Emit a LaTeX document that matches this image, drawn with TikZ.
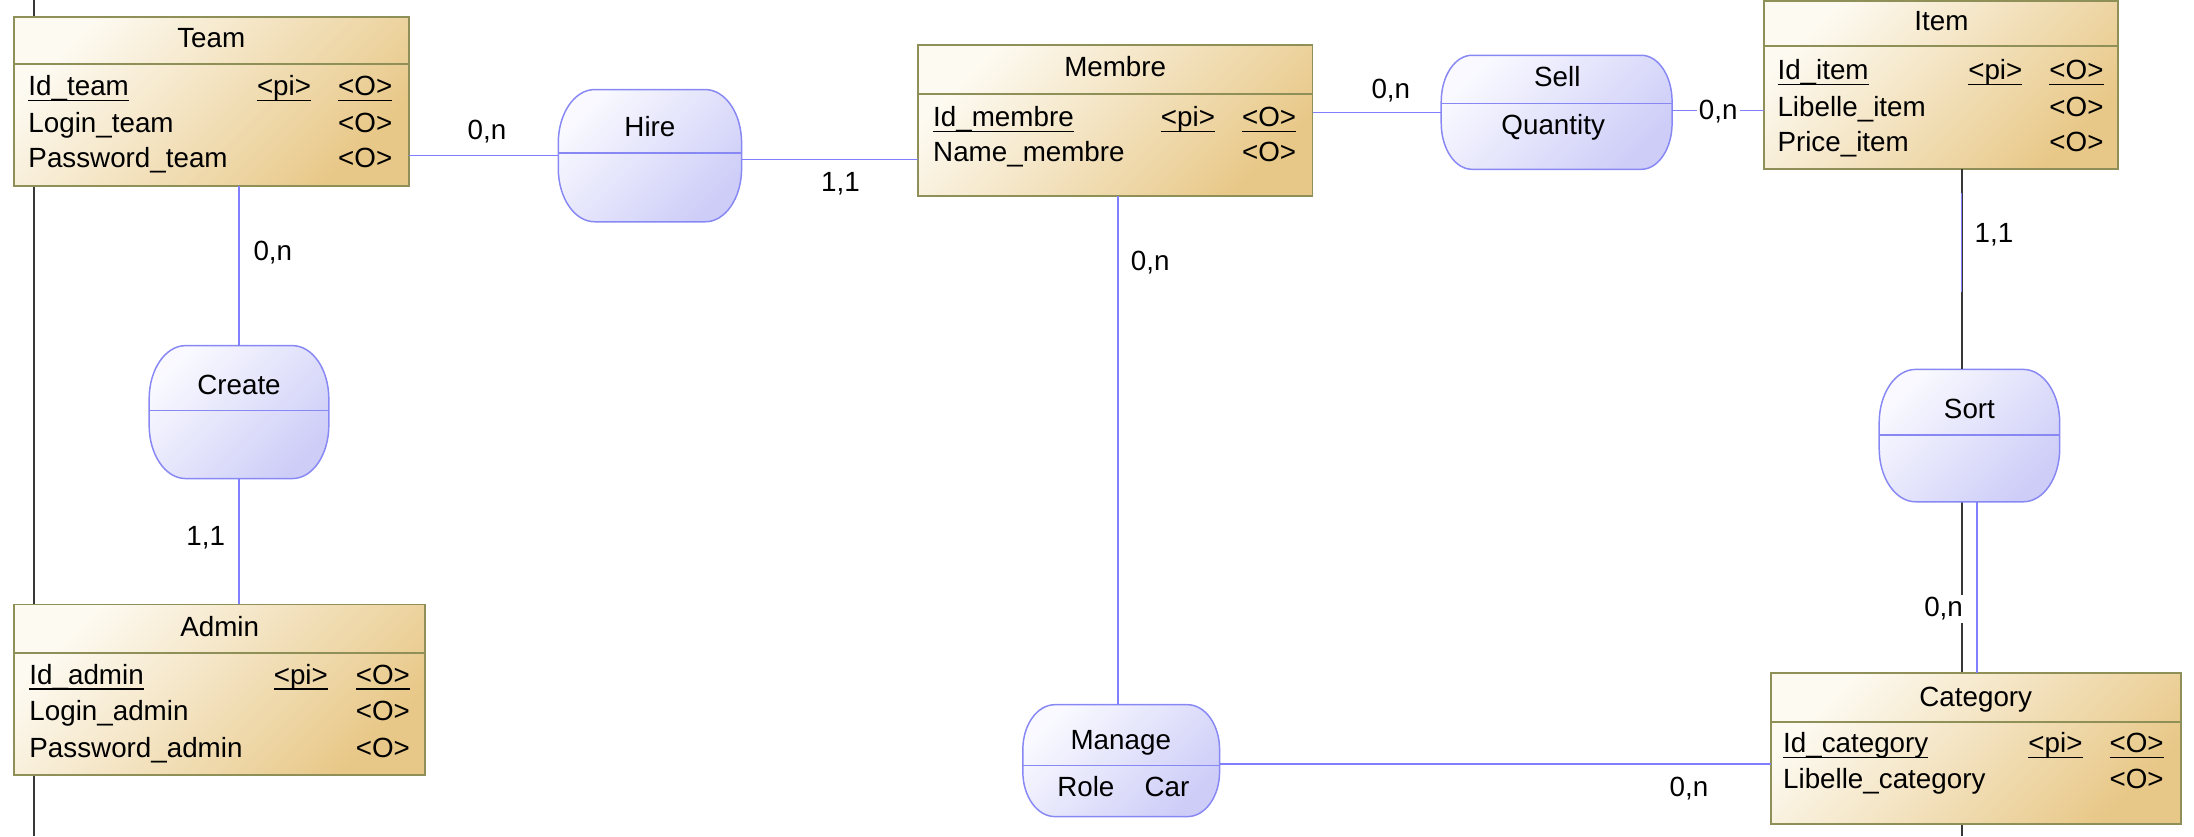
\documentclass[tikz,border=0pt]{standalone}
\usepackage{fontspec}
\setmainfont{Liberation Sans}
\usetikzlibrary{fit}

\definecolor{entlight}{HTML}{FDFAF1}
\definecolor{entdark}{HTML}{E8C888}
\definecolor{entedge}{HTML}{8F8F58}
\definecolor{asslight}{HTML}{F9F9FF}
\definecolor{assdark}{HTML}{CDCDF8}
\definecolor{assedge}{HTML}{8888F4}
\definecolor{linkblue}{HTML}{8080FF}
\definecolor{strayline}{HTML}{383838}

\newcommand{\keyul}[1]{\setbox0\hbox{#1}\rlap{\rule[-2.3pt]{\wd0}{0.7pt}}\box0}

\tikzset{
  entity/.style={draw=entedge, line width=0.8pt, top color=entlight, bottom color=entdark, shading angle=45, inner sep=0pt, outer sep=0pt},
  assoc/.style={draw=assedge, line width=0.6pt, top color=asslight, bottom color=assdark, shading angle=45},
  link/.style={draw=linkblue, line width=0.6pt},
  stray/.style={draw=strayline, line width=0.8pt},
  txt/.style={anchor=base west, inner sep=0pt},
  ctr/.style={anchor=base, inner sep=0pt},
  card/.style={anchor=base, inner sep=1pt},
  cardw/.style={card, fill=white}
}

\begin{document}
\begin{tikzpicture}[x=0.02cm, y=0.02cm, font=\fontsize{11.3}{13.6}\selectfont]
\useasboundingbox (0,0) rectangle (1568,-597.5);
\draw[stray] (24.4,0) -- (24.4,-597.5);
\draw[stray] (1402,0) -- (1402,-597.5);
% entities
\foreach \n/\xa/\ya/\xb/\yb/\yd in {team/10/-12/292/-132.6/-46, admin/10/-432/303.8/-553.6/-467, membre/656/-32.5/938/-140/-67, item/1261/-0.8/1514/-121/-33, category/1266/-481/1558.6/-588.6/-516}{
  \node[entity, fit={(\xa,\ya) (\xb,\yb)}] (\n) {};
  \draw[entedge, line width=0.8pt] (\xa,\yd) -- (\xb,\yd);
}
% associations
\foreach \n/\xa/\ya/\xb/\yb/\yd/\rx/\ry in {hire/399/-64/530/-158.5/-109.5/26/38, create/106.6/-247/235/-342/-293.5/26/38, sort/1343/-264/1472/-358.6/-311/26/38, sell/1030/-39.5/1195/-121/-74/22/33, manage/731/-503.6/871.6/-583.6/-547/23/32}{
  \path[assoc] (\xa+\rx,\ya) -- (\xb-\rx,\ya) arc[start angle=90, end angle=0, x radius={\rx*0.02cm}, y radius={\ry*0.02cm}] -- (\xb,\yb+\ry) arc[start angle=0, end angle=-90, x radius={\rx*0.02cm}, y radius={\ry*0.02cm}] -- (\xa+\rx,\yb) arc[start angle=270, end angle=180, x radius={\rx*0.02cm}, y radius={\ry*0.02cm}] -- (\xa,\ya-\ry) arc[start angle=180, end angle=90, x radius={\rx*0.02cm}, y radius={\ry*0.02cm}] -- cycle;
  \draw[assedge, line width=0.6pt] (\xa,\yd) -- (\xb,\yd);
  \node[fit={(\xa,\ya) (\xb,\yb)}, inner sep=0pt, outer sep=0pt] (\n) {};
}
% links
\draw[link] (team.east |- hire.west) -- (hire.west);
\draw[link] (hire.east |- 0,-114) -- (membre.west |- 0,-114);
\draw[link] (team.south -| create.north) -- (create.north);
\draw[link] (create.south) -- (create.south |- admin.north);
\draw[link] (799,0 |- membre.south) -- (799,0 |- manage.north);
\draw[link] (manage.east |- 0,-546) -- (category.west |- 0,-546);
\draw[link] (membre.east |- sell.west) -- (sell.west);
\draw[link] (sell.east |- 0,-79) -- (item.west |- 0,-79);
\draw[link] (1402,0 |- item.south) -- (1402,0 |- sort.north);
\draw[link] (1413,0 |- sort.south) -- (1413,0 |- category.north);
\draw[stray] (1402,0 |- item.south) -- (1402,-138) (1402,-209) -- (1402,0 |- sort.north);
% Team
\node[ctr] (teamT) at (151,-34) {Team};
\node[txt] (teamA1) at (20,-68.4) {\keyul{Id\_team}};
\node[ctr] (teamP1) at (203,-68.4) {\keyul{<pi>}};
\node[ctr] (teamO1) at (261,-68.4) {\keyul{<O>}};
\node[txt] (teamA2) at (20,-94.4) {Login\_team};
\node[ctr] (teamO2) at (261,-94.4) {<O>};
\node[txt] (teamA3) at (20,-120) {Password\_team};
\node[ctr] (teamO3) at (261,-120) {<O>};
% Admin
\node[ctr] (adminT) at (157,-455) {Admin};
\node[txt] (adminA1) at (20.7,-489) {\keyul{Id\_admin}};
\node[ctr] (adminP1) at (215,-489) {\keyul{<pi>}};
\node[ctr] (adminO1) at (273.6,-489) {\keyul{<O>}};
\node[txt] (adminA2) at (20.7,-515) {Login\_admin};
\node[ctr] (adminO2) at (273.6,-515) {<O>};
\node[txt] (adminA3) at (20.7,-541) {Password\_admin};
\node[ctr] (adminO3) at (273.6,-541) {<O>};
% Membre
\node[ctr] (membreT) at (797,-55) {Membre};
\node[txt] (membreA1) at (666.6,-90.5) {\keyul{Id\_membre}};
\node[ctr] (membreP1) at (849,-90.5) {\keyul{<pi>}};
\node[ctr] (membreO1) at (907,-90.5) {\keyul{<O>}};
\node[txt] (membreA2) at (666.6,-115.5) {Name\_membre};
\node[ctr] (membreO2) at (907,-115.5) {<O>};
% Item
\node[ctr] (itemT) at (1387.5,-22) {Item};
\node[txt] (itemA1) at (1270,-57) {\keyul{Id\_item}};
\node[ctr] (itemP1) at (1426,-57) {\keyul{<pi>}};
\node[ctr] (itemO1) at (1484,-57) {\keyul{<O>}};
\node[txt] (itemA2) at (1270,-83) {Libelle\_item};
\node[ctr] (itemO2) at (1484,-83) {<O>};
\node[txt] (itemA3) at (1270,-108) {Price\_item};
\node[ctr] (itemO3) at (1484,-108) {<O>};
% Category
\node[ctr] (categoryT) at (1412,-504.6) {Category};
\node[txt] (categoryA1) at (1274,-538) {\keyul{Id\_category}};
\node[ctr] (categoryP1) at (1469,-538) {\keyul{<pi>}};
\node[ctr] (categoryO1) at (1527,-538) {\keyul{<O>}};
\node[txt] (categoryA2) at (1274,-563.6) {Libelle\_category};
\node[ctr] (categoryO2) at (1527,-563.6) {<O>};
% associations text
\node[ctr] (hireT) at (464.5,-97.5) {Hire};
\node[ctr] (createT) at (170.8,-282) {Create};
\node[ctr] (sortT) at (1407.5,-299) {Sort};
\node[ctr] (sellT) at (1113,-61.8) {Sell};
\node[ctr] (sellA1) at (1110,-96.3) {Quantity};
\node[ctr] (manageT) at (801,-535.6) {Manage};
\node[ctr] (manageA1) at (776,-569) {Role};
\node[ctr] (manageA2) at (834,-569) {Car};
% cardinalities
\node[card] (cTeamHire) at (348,-100) {0,n};
\node[card] (cMembreHire) at (600.7,-136.8) {1,1};
\node[card] (cTeamCreate) at (195,-186) {0,n};
\node[card] (cAdminCreate) at (147,-390) {1,1};
\node[card] (cMembreManage) at (822,-193) {0,n};
\node[card] (cCategoryManage) at (1207,-569) {0,n};
\node[card] (cMembreSell) at (994,-70.6) {0,n};
\node[cardw] (cItemSell) at (1228,-85.6) {0,n};
\node[card] (cItemSort) at (1425,-173) {1,1};
\node[cardw] (cCategorySort) at (1389,-440.6) {0,n};
\end{tikzpicture}
\end{document}
